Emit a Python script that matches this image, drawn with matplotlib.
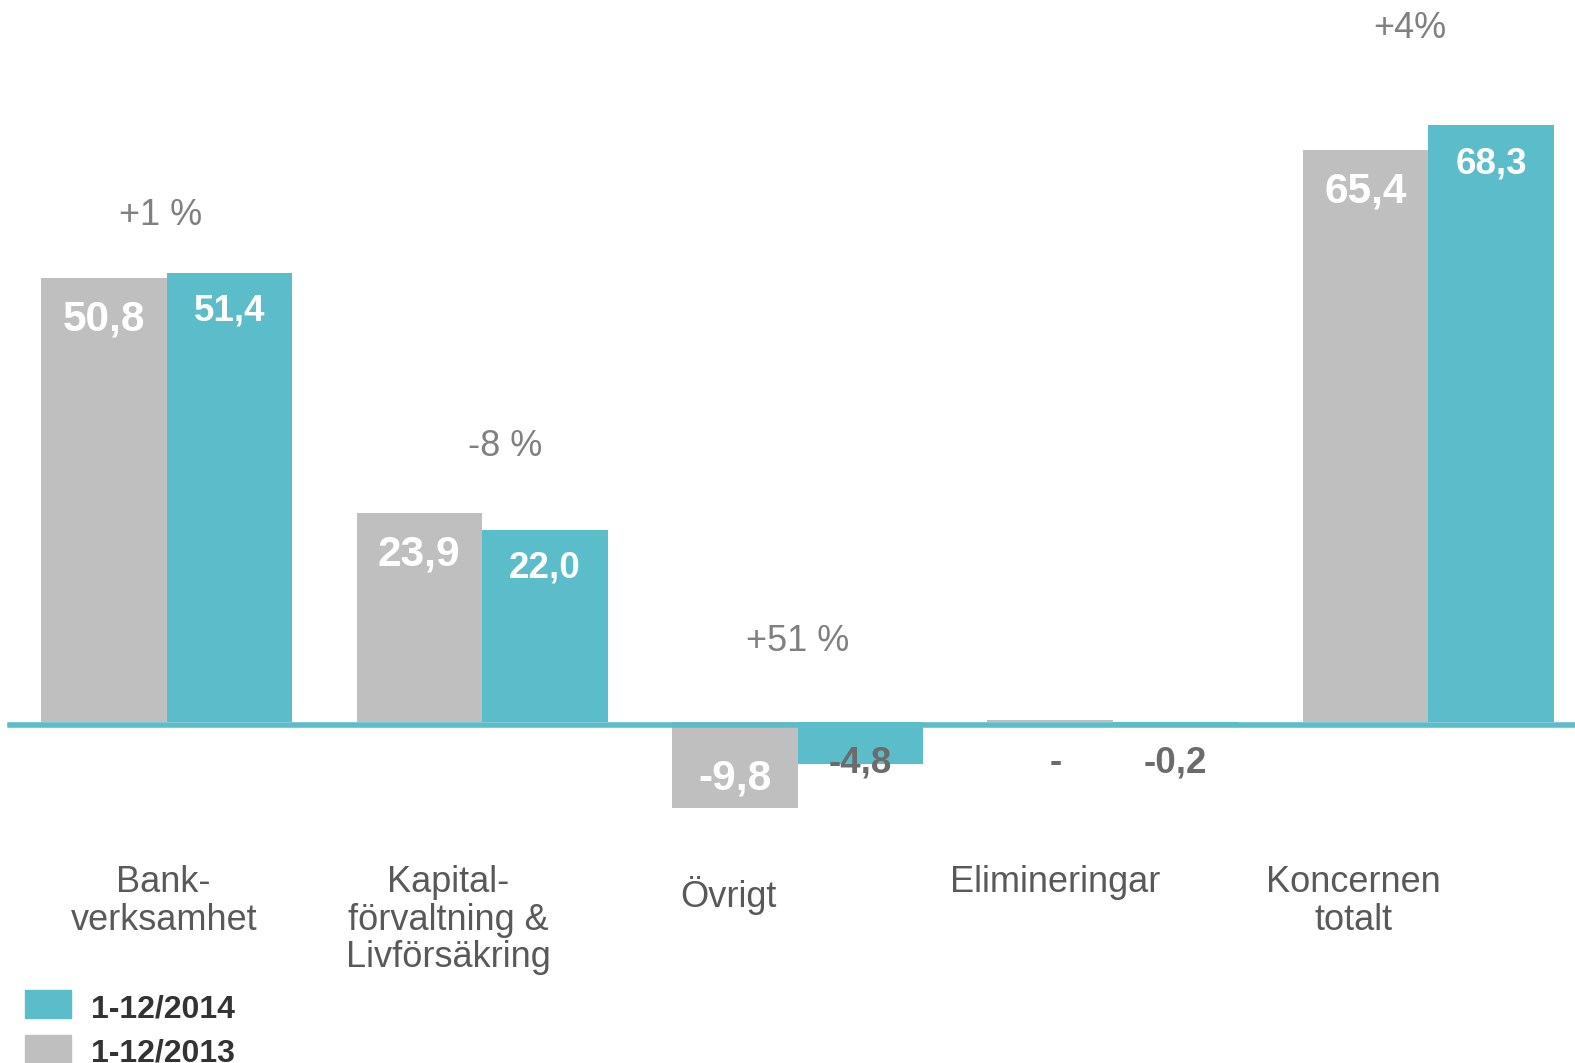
import matplotlib
matplotlib.use("Agg")
import matplotlib.pyplot as plt
from matplotlib.patches import Rectangle

plt.rcParams['font.family'] = ['Liberation Sans', 'DejaVu Sans']

# ---------- data ----------
categories = ["Bank-\nverksamhet", "Kapital-\nförvaltning &\nLivförsäkring",
              "Övrigt", "Elimineringar", "Koncernen\ntotalt"]
vals_2013 = [50.8, 23.9, -9.8, 0.2, 65.4]
vals_2014 = [51.4, 22.0, -4.8, -0.2, 68.3]
labels_2013 = ["50,8", "23,9", "-9,8", "-", "65,4"]
labels_2014 = ["51,4", "22,0", "-4,8", "-0,2", "68,3"]
changes = ["+1 %", "-8 %", "+51 %", "", "+4%"]
legend_names = ["1-12/2014", "1-12/2013"]

# ---------- style / layout ----------
TEAL = "#5BBCCA"
GREY = "#BFBFBF"
W, H = 1575, 1063
PITCH = 315.4           # px per group
PXU = 8.74              # px per value unit
ZERO = 722              # px of zero line
bw = 125.6 / PITCH

# label layout (px)
cat_dx = [-3, -34, -69, -58, -75]
cat_top = [865, 865, 876, 865, 865]
pct_dx = [-6, 23, 0, 0, -18]
pct_base = [225, 456, 651, 0, 38]

fig = plt.figure(figsize=(W / 100, H / 100), dpi=100)
ax = fig.add_axes([0, 0, 1, 1])
x0 = 166.7 / PITCH
ax.set_xlim(-x0, (W - 166.7) / PITCH)
ax.set_ylim(-(H - ZERO) / PXU, ZERO / PXU)
ax.axis("off")

def py(px):
    # pixel row -> data y
    return (ZERO - px) / PXU

xs = list(range(len(categories)))
ax.bar([x - bw / 2 for x in xs], vals_2013, width=bw, color=GREY, zorder=2)
ax.bar([x + bw / 2 for x in xs], vals_2014, width=bw, color=TEAL, zorder=2)

# baseline axis line
ax.axhline(-2.5 / PXU, xmin=10 / W, xmax=1, color=TEAL, lw=4.0, zorder=3)

# value labels
for vals, labs, side, size, drop in [(vals_2013, labels_2013, -1, 30.5, 52),
                                     (vals_2014, labels_2014, 1, 26.5, 48)]:
    for x, v, lab in zip(xs, vals, labs):
        cx = x + side * bw / 2
        if v >= 1:
            ax.annotate(lab, (cx, v), xytext=(0, -drop * 0.72), textcoords="offset points",
                        ha="center", va="baseline", fontsize=size, fontweight="bold",
                        color="white", zorder=4)
        elif v <= -5:
            ax.annotate(lab, (cx, v), xytext=(0, 18 * 0.72), textcoords="offset points",
                        ha="center", va="baseline", fontsize=size, fontweight="bold",
                        color="white", zorder=4)
        else:
            dx = 6 if lab == "-" else 0
            ax.annotate(lab, (cx, 0), xytext=(dx * 0.72, -50 * 0.72), textcoords="offset points",
                        ha="center", va="baseline", fontsize=26.5, fontweight="bold",
                        color="#6B6B6B", zorder=4)

# change labels
for x, txt, dx, b in zip(xs, changes, pct_dx, pct_base):
    if txt:
        ax.text(x + dx / PITCH, py(b), txt, ha="center", va="baseline",
                fontsize=26, color="#808080")

# category labels
for x, txt, dx, t in zip(xs, categories, cat_dx, cat_top):
    ax.text(x + dx / PITCH, py(t), txt, ha="center", va="top", fontsize=26,
            color="#595959", linespacing=1.1)

# legend
for i, (name, col) in enumerate(zip(legend_names, [TEAL, GREY])):
    top = 990 + i * 45
    fig.patches.append(Rectangle((25 / W, 1 - (top + 28) / H), 46 / W, 28 / H,
                                 transform=fig.transFigure, color=col))
    fig.text(91 / W, 1 - (top + 27) / H, name, ha="left", va="baseline",
             fontsize=23, fontweight="bold", color="#333333")

fig.savefig("out.png", dpi=100)
